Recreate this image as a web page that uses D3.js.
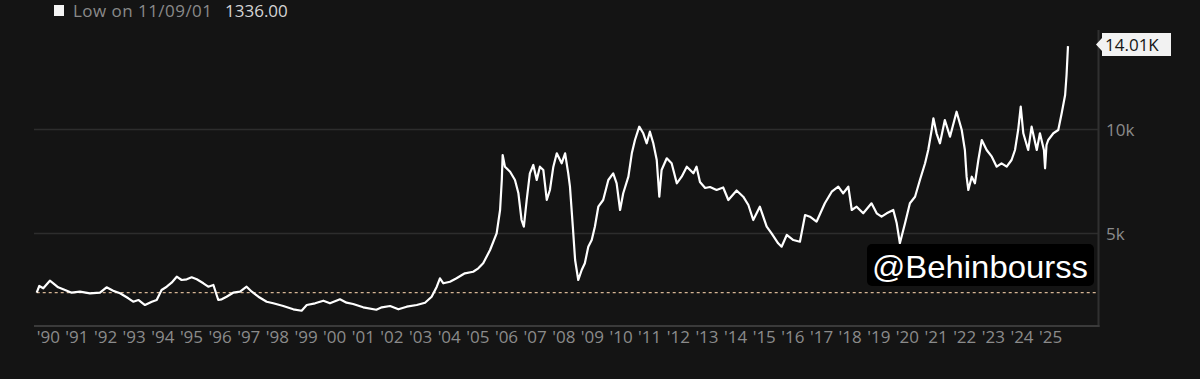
<!DOCTYPE html>
<html>
<head>
<meta charset="utf-8">
<script src="https://d3js.org/d3.v7.min.js"></script>
<style>
  html, body { margin: 0; padding: 0; background: #141414; }
  svg { display: block; }
  text { font-family: "Open Sans", "DejaVu Sans", sans-serif; }
</style>
</head>
<body>
<svg width="1200" height="379"></svg>
<script>
// decimal years of each point
var dates = [
  1990.00, 1990.09, 1990.23, 1990.46, 1990.58, 1990.75, 1990.99, 1991.22, 1991.51, 1991.86,
  1992.21, 1992.44, 1992.67, 1992.91, 1993.20, 1993.37, 1993.55, 1993.78, 1994.02, 1994.19,
  1994.36, 1994.54, 1994.71, 1994.89, 1995.06, 1995.24, 1995.41, 1995.59, 1995.82, 1995.99,
  1996.17, 1996.34, 1996.46, 1996.63, 1996.86, 1997.10, 1997.33, 1997.51, 1997.74, 1998.03,
  1998.26, 1998.61, 1998.96, 1999.25, 1999.43, 1999.72, 2000.01, 2000.24, 2000.59, 2000.82,
  2001.05, 2001.40, 2001.86, 2002.05, 2002.34, 2002.63, 2002.92, 2003.27, 2003.56, 2003.79,
  2003.97, 2004.08, 2004.20, 2004.43, 2004.66, 2004.95, 2005.24, 2005.42, 2005.59, 2005.83,
  2006.06, 2006.18, 2006.24, 2006.27, 2006.35, 2006.53, 2006.70, 2006.82, 2006.93, 2007.01,
  2007.11, 2007.22, 2007.34, 2007.46, 2007.57, 2007.69, 2007.81, 2007.92, 2008.04, 2008.16,
  2008.33, 2008.45, 2008.56, 2008.62, 2008.72, 2008.80, 2008.91, 2009.03, 2009.14, 2009.26,
  2009.38, 2009.49, 2009.61, 2009.78, 2009.96, 2010.13, 2010.25, 2010.37, 2010.48, 2010.66,
  2010.78, 2010.89, 2011.04, 2011.18, 2011.30, 2011.41, 2011.53, 2011.65, 2011.74, 2011.82,
  2012.00, 2012.17, 2012.35, 2012.52, 2012.70, 2012.93, 2013.04, 2013.16, 2013.34, 2013.51,
  2013.74, 2013.97, 2014.15, 2014.44, 2014.67, 2014.85, 2015.02, 2015.25, 2015.49, 2015.66,
  2015.89, 2016.01, 2016.19, 2016.42, 2016.65, 2016.83, 2017.00, 2017.23, 2017.52, 2017.76,
  2017.99, 2018.16, 2018.34, 2018.46, 2018.63, 2018.86, 2019.15, 2019.33, 2019.50, 2019.68,
  2019.91, 2020.03, 2020.14, 2020.32, 2020.49, 2020.67, 2020.84, 2021.02, 2021.13, 2021.25,
  2021.31, 2021.42, 2021.54, 2021.71, 2021.89, 2022.12, 2022.30, 2022.41, 2022.47, 2022.53,
  2022.65, 2022.76, 2022.88, 2023.00, 2023.17, 2023.35, 2023.52, 2023.69, 2023.87, 2024.04,
  2024.16, 2024.27, 2024.36, 2024.45, 2024.62, 2024.74, 2024.92, 2025.03, 2025.17, 2025.21,
  2025.26, 2025.32, 2025.50, 2025.67, 2025.79, 2025.91, 2025.96, 2026.01
];

var prices = [
  2154, 2476, 2365, 2731, 2606, 2413, 2284, 2154, 2202, 2125,
  2154, 2413, 2250, 2125, 1884, 1721, 1803, 1562, 1721, 1803,
  2284, 2442, 2634, 2923, 2764, 2798, 2894, 2798, 2606, 2442,
  2524, 1803, 1836, 1961, 2154, 2202, 2442, 2202, 1961, 1721,
  1644, 1514, 1355, 1288, 1562, 1644, 1769, 1644, 1836, 1673,
  1610, 1452, 1336, 1452, 1514, 1355, 1481, 1562, 1673, 1961,
  2442, 2846, 2606, 2683, 2846, 3086, 3163, 3327, 3567, 4207,
  5010, 6130, 7572, 8774, 8212, 7971, 7572, 6933, 5649, 5327,
  6611, 7894, 8293, 7572, 8212, 8053, 6611, 7091, 8212, 8856,
  8375, 8856, 7894, 7250, 5327, 3726, 2764, 3245, 3567, 4365,
  4687, 5327, 6289, 6611, 7572, 7894, 7414, 6130, 6933, 7731,
  8856, 9495, 10135, 9818, 9337, 9895, 9337, 8534, 6769, 8053,
  8616, 8375, 7414, 7731, 8212, 7894, 8212, 7476, 7188, 7236,
  7091, 7212, 6611, 7067, 6769, 6370, 5649, 6289, 5327, 5010,
  4529, 4365, 4928, 4687, 4606, 5889, 5808, 5567, 6452, 7010,
  7250, 6933, 7250, 6130, 6289, 5971, 6452, 5971, 5808, 5971,
  6130, 5490, 4529, 5490, 6452, 6769, 7572, 8375, 9015, 9976,
  10539, 9818, 9337, 10457, 9654, 10856, 9976, 9015, 7731, 7091,
  7731, 7414, 8534, 9495, 9015, 8693, 8212, 8375, 8212, 8534,
  9015, 9976, 11097, 9818, 9015, 10135, 9015, 9818, 9015, 8135,
  9255, 9495, 9818, 9976, 10779, 11659, 12621, 14010
];

var yearTicks = d3.range(1990, 2026);
var valueTicks = [5000, 10000];
var lowLabel = "Low on 11/09/01";
var lowValue = 1336;
var lastLabel = "14.01K";

var series = dates.map(function(d, i) { return { t: d, v: prices[i] }; });

var svg = d3.select("svg");

var x = d3.scaleLinear().domain([1990, 2026]).range([36.7, 1067.7]);
var y = d3.scaleLinear().domain([0, 15000]).range([337.5, 25.5]);

var plotRight = 1098.5;
var plotBottom = 326;

// horizontal grid lines with right-hand labels
svg.append("g")
  .selectAll("line")
  .data(valueTicks)
  .enter()
  .append("line")
  .attr("x1", 34)
  .attr("x2", plotRight)
  .attr("y1", function(d) { return y(d); })
  .attr("y2", function(d) { return y(d); })
  .attr("stroke", "#2d2d2d")
  .attr("stroke-width", 1.6);

svg.append("g")
  .selectAll("text")
  .data(valueTicks)
  .enter()
  .append("text")
  .attr("x", 1106)
  .attr("y", function(d) { return y(d) + 6; })
  .attr("fill", "#8b8b8b")
  .style("font-size", "17px")
  .text(function(d) { return (d / 1000) + "k"; });

// frame: right edge and bottom axis
svg.append("line")
  .attr("x1", plotRight).attr("x2", plotRight)
  .attr("y1", 30).attr("y2", plotBottom + 1)
  .attr("stroke", "#303030")
  .attr("stroke-width", 2);

svg.append("line")
  .attr("x1", 34).attr("x2", plotRight + 1)
  .attr("y1", plotBottom).attr("y2", plotBottom)
  .attr("stroke", "#3a3a3a")
  .attr("stroke-width", 2);

// year labels
svg.append("g")
  .selectAll("text")
  .data(yearTicks)
  .enter()
  .append("text")
  .attr("x", function(d) { return x(d); })
  .attr("y", 343)
  .attr("fill", "#8b8b8b")
  .style("font-size", "17px")
  .text(function(d) { return "'" + String(d).slice(2); });

// dashed reference line at the first value
svg.append("line")
  .attr("x1", x(dates[0]))
  .attr("x2", plotRight)
  .attr("y1", y(prices[0]))
  .attr("y2", y(prices[0]))
  .attr("stroke", "#d6b594")
  .attr("stroke-width", 1.3)
  .attr("stroke-dasharray", "3,3");

// price line
var line = d3.line()
  .x(function(d) { return x(d.t); })
  .y(function(d) { return y(d.v); });

svg.append("path")
  .datum(series)
  .attr("d", line)
  .attr("fill", "none")
  .attr("stroke", "#ffffff")
  .attr("stroke-width", 2.2)
  .attr("stroke-linejoin", "round");

// last value tag
var last = series[series.length - 1];
var tagY = y(last.v) - 1.5;
var tag = svg.append("g").attr("transform", "translate(1100," + tagY + ")");
tag.append("path")
  .attr("d", "M-4,0 L2,-6.5 L2,-11.5 L71,-11.5 L71,11.5 L2,11.5 L2,6.5 Z")
  .attr("fill", "#f2f2f2");
tag.append("text")
  .attr("x", 5)
  .attr("y", 6)
  .attr("fill", "#161616")
  .style("font-size", "17px")
  .text(lastLabel);

// legend
svg.append("rect")
  .attr("x", 54).attr("y", 5)
  .attr("width", 10).attr("height", 11)
  .attr("fill", "#f4f4f4");
svg.append("text")
  .attr("x", 73).attr("y", 17)
  .attr("fill", "#8a8a8a")
  .style("font-size", "17px")
  .attr("textLength", 139)
  .attr("lengthAdjust", "spacing")
  .text(lowLabel);
svg.append("text")
  .attr("x", 225).attr("y", 17)
  .attr("fill", "#d4d4d4")
  .style("font-size", "17px")
  .text(d3.format(".2f")(lowValue));

// channel stamp
svg.append("rect")
  .attr("x", 867).attr("y", 244)
  .attr("width", 227).attr("height", 42)
  .attr("rx", 5)
  .attr("fill", "#000000");
svg.append("text")
  .attr("x", 872).attr("y", 278)
  .attr("fill", "#ffffff")
  .style("font-family", "'Liberation Sans', Arial, sans-serif")
  .style("font-size", "32px")
  .style("font-weight", "500")
  .attr("textLength", 216)
  .attr("lengthAdjust", "spacingAndGlyphs")
  .text("@Behinbourss");
</script>
</body>
</html>
